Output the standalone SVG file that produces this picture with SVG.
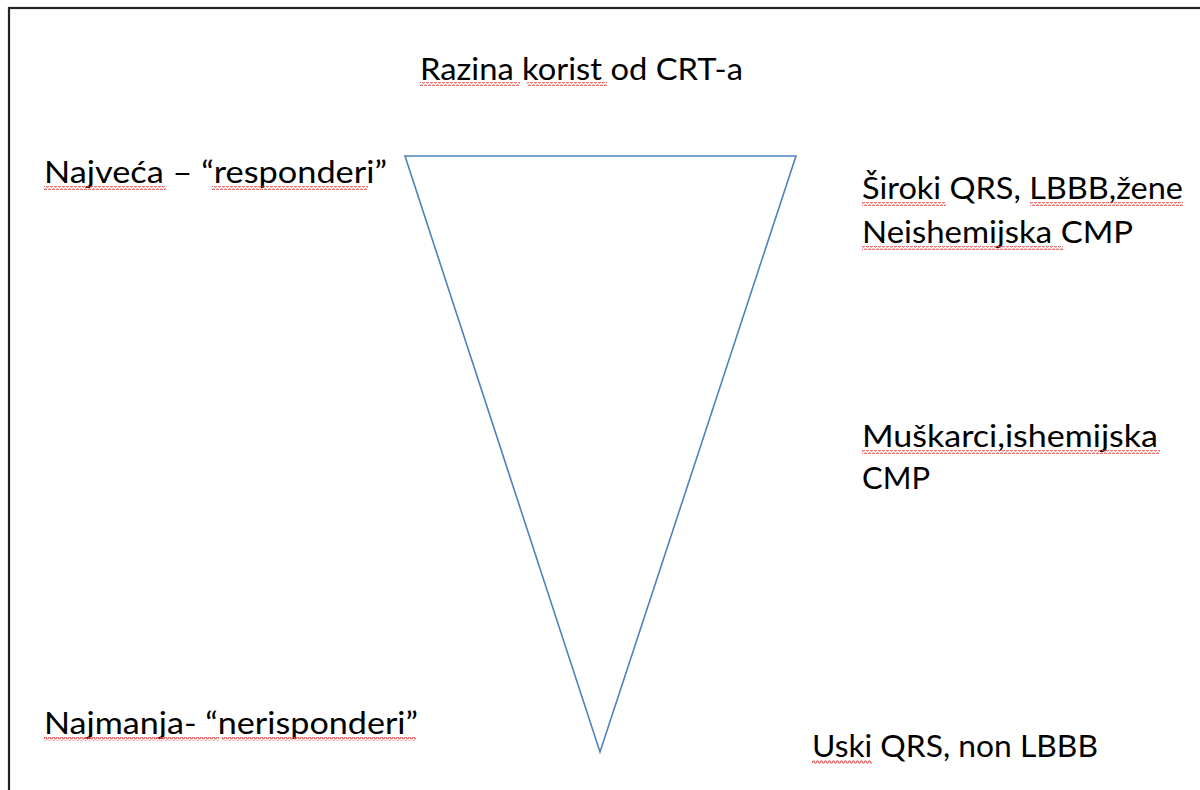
<svg xmlns="http://www.w3.org/2000/svg" width="1200" height="790" viewBox="0 0 1200 790">
  <defs>
    <pattern id="squig" x="0" y="0" width="4" height="4" patternUnits="userSpaceOnUse">
      <polyline points="0,3 1,1 2,1 3,3 4,3" fill="none" stroke="#e05555" stroke-width="1.1"/>
    </pattern>
    <style>
      .t { font-family: "Lato", "Open Sans", "Liberation Sans", sans-serif; font-size: 31px; fill: #000; }
      .sq { fill: url(#squig); }
    </style>
  </defs>
  <rect x="0" y="0" width="1200" height="790" fill="#fff"/>
  <rect x="9" y="8" width="1200" height="800" fill="none" stroke="#222" stroke-width="2.2"/>

  <g id="connectors">
    <polygon id="triangle" points="405,156 796,156 600,752" fill="none" stroke="#4f81bd" stroke-width="1.6"/>
  </g>

  <g id="title">
    <text class="t" x="420" y="80" textLength="323" lengthAdjust="spacingAndGlyphs">Razina korist od CRT-a</text>
    <rect class="sq" x="420" y="82" width="100" height="4"/>
    <rect class="sq" x="527" y="82" width="80" height="4"/>
  </g>

  <g id="najveca">
    <text class="t" x="44" y="183" textLength="343" lengthAdjust="spacingAndGlyphs">Najveća – “responderi”</text>
    <rect class="sq" x="44" y="186" width="122" height="4"/>
    <rect class="sq" x="212" y="186" width="156" height="4"/>
  </g>

  <g id="siroki">
    <text class="t" x="862" y="199" textLength="321" lengthAdjust="spacingAndGlyphs">Široki QRS, LBBB,žene</text>
    <rect class="sq" x="862" y="202" width="84" height="4"/>
    <rect class="sq" x="1030" y="202" width="153" height="4"/>
    <text class="t" x="862" y="243" textLength="271" lengthAdjust="spacingAndGlyphs">Neishemijska CMP</text>
    <rect class="sq" x="862" y="246" width="201" height="4"/>
  </g>

  <g id="muskarci">
    <text class="t" x="862" y="447" textLength="296" lengthAdjust="spacingAndGlyphs">Muškarci,ishemijska</text>
    <rect class="sq" x="862" y="450" width="298" height="4"/>
    <text class="t" x="862" y="489" textLength="68" lengthAdjust="spacingAndGlyphs">CMP</text>
  </g>

  <g id="najmanja">
    <text class="t" x="44" y="734" textLength="374" lengthAdjust="spacingAndGlyphs">Najmanja- “nerisponderi”</text>
    <rect class="sq" x="44" y="737" width="175" height="4"/>
    <rect class="sq" x="222" y="737" width="194" height="4"/>
  </g>

  <g id="uski">
    <text class="t" x="812" y="757" textLength="286" lengthAdjust="spacingAndGlyphs">Uski QRS, non LBBB</text>
    <rect class="sq" x="812" y="760" width="60" height="4"/>
  </g>
</svg>
